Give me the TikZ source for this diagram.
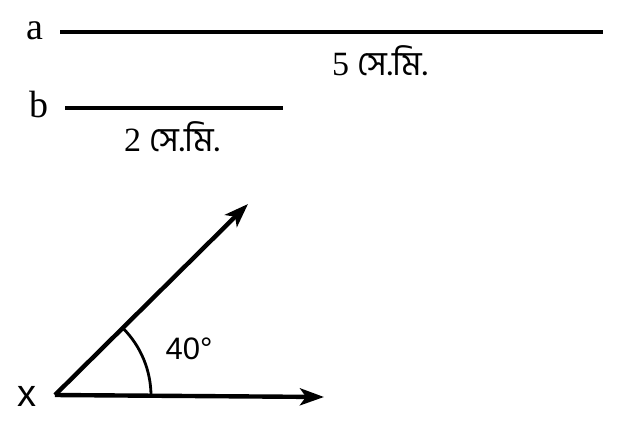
\documentclass[tikz,border=0pt]{standalone}
\usepackage{fontspec}
\setmainfont{Liberation Serif}
\newfontfamily\bn[Script=Bengali]{Hind Siliguri}
\newfontfamily\sans{Liberation Sans}
\usetikzlibrary{arrows.meta}
\begin{document}
\begin{tikzpicture}[x=1pt,y=-1pt,
  seg/.style={line width=3.4pt},
  ray/.style={line width=4.4pt,-{Stealth[length=24pt,width=17pt,inset=6pt]}},
  lbl/.style={inner sep=0pt,font=\fontsize{38}{40}\selectfont},
  len/.style={inner sep=0pt,font=\fontsize{34}{36}\selectfont},
  ang/.style={inner sep=0pt,font=\sans\fontsize{31}{33}\selectfont}]
\useasboundingbox (0,0) rectangle (636,431);
% segment a
\node[lbl] (la) at (35,31) {a};
\coordinate (a1) at (60,32);
\coordinate (a2) at (603,32);
\draw[seg] (a1) -- (a2);
\node[len] (ta) at (380,61) {5 {\bn সে.মি.}};
% segment b
\node[lbl] (lb) at (39,105) {b};
\coordinate (b1) at (65,108);
\coordinate (b2) at (283,108);
\draw[seg] (b1) -- (b2);
\node[len] (tb) at (172,137) {2 {\bn সে.মি.}};
% angle
\coordinate (X) at (55,395);
\coordinate (H) at (324,397);
\coordinate (S) at (248,204);
\node[ang,font=\sans\fontsize{38}{40}\selectfont] (lx) at (27,396) {x};
\draw[ray] (X) -- (H);
\draw[ray] (X) -- (S);
\draw[line width=2.8pt] (151,396) arc[start angle=0,end angle=-44.7,radius=96];
\node[ang] (t40) at (189,349) {40°};
\end{tikzpicture}
\end{document}
